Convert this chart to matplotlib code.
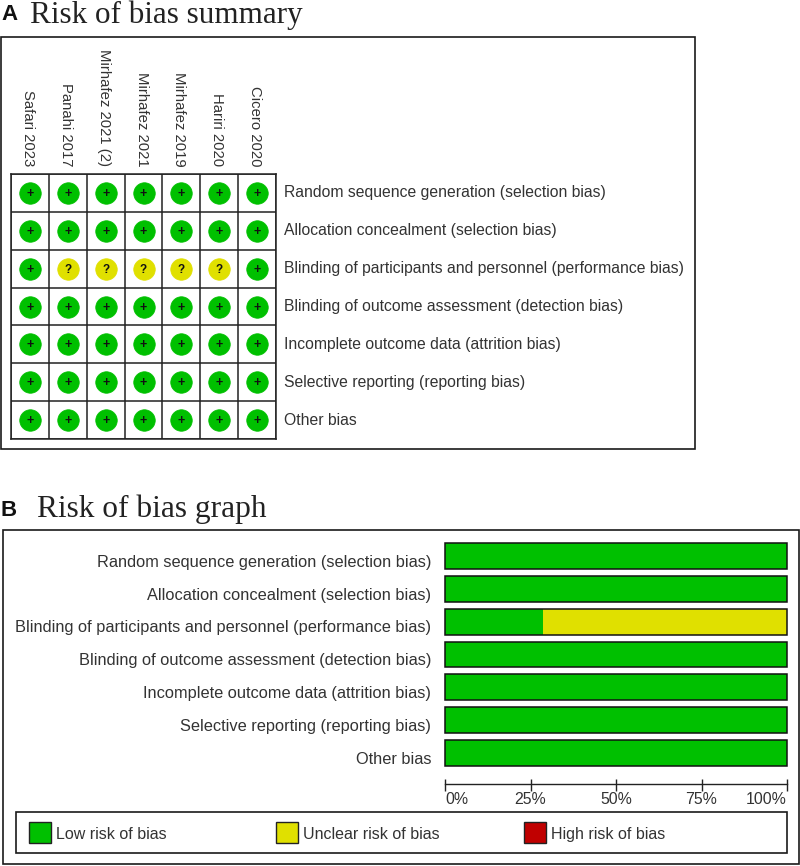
import matplotlib
matplotlib.use("Agg")
import matplotlib.pyplot as plt
from matplotlib.patches import Rectangle

W, H = 800, 866
GREEN = "#00c000"
YELLOW = "#e0e000"
RED = "#c00000"
TXT = "#333333"

studies = ["Safari 2023", "Panahi 2017", "Mirhafez 2021 (2)", "Mirhafez 2021",
           "Mirhafez 2019", "Hariri 2020", "Cicero 2020"]
domains = ["Random sequence generation (selection bias)",
           "Allocation concealment (selection bias)",
           "Blinding of participants and personnel (performance bias)",
           "Blinding of outcome assessment (detection bias)",
           "Incomplete outcome data (attrition bias)",
           "Selective reporting (reporting bias)",
           "Other bias"]
judgements = ["+++++++", "+++++++", "+?????+", "+++++++", "+++++++", "+++++++", "+++++++"]
low_pct = [100, 100, 28.6, 100, 100, 100, 100]
unclear_pct = [0, 0, 71.4, 0, 0, 0, 0]
high_pct = [0, 0, 0, 0, 0, 0, 0]
ticks = [0, 25, 50, 75, 100]
tick_labels = ["0%", "25%", "50%", "75%", "100%"]
legend_items = [("Low risk of bias", GREEN), ("Unclear risk of bias", YELLOW), ("High risk of bias", RED)]

plt.rcParams["font.family"] = ["Liberation Sans", "DejaVu Sans"]
fig = plt.figure(figsize=(W / 100, H / 100), dpi=100, facecolor="white")


def px_axes(x0, y0, x1, y1):
    return fig.add_axes([x0 / W, 1 - y1 / H, (x1 - x0) / W, (y1 - y0) / H])


def frame(x0, y0, x1, y1, lw=1.2, ec="#1a1a1a"):
    fig.add_artist(Rectangle((x0 / W, 1 - y1 / H), (x1 - x0) / W, (y1 - y0) / H,
                             transform=fig.transFigure, fill=False, ec=ec, lw=lw))


def ftext(x, y, s, **kw):
    fig.text(x / W, 1 - y / H, s, **kw)


# Panel headings
ftext(1, 15, "A", fontsize=16, fontweight="bold", va="center", ha="left", color="#111111")
ftext(30, 15, "Risk of bias summary", fontsize=22.4, va="center", ha="left",
      family=["Liberation Serif"], color="#222222")
ftext(1, 510, "B", fontsize=16, fontweight="bold", va="center", ha="left", color="#111111")
ftext(37, 509, "Risk of bias graph", fontsize=22.6, va="center", ha="left",
      family=["Liberation Serif"], color="#222222")

frame(1, 37, 695, 449)
frame(3, 530, 799, 864)

# Panel A: traffic-light grid
ax = px_axes(11, 174, 276, 439)
n_c, n_r = len(studies), len(domains)
ax.set_xlim(0, n_c)
ax.set_ylim(n_r, 0)
ax.set_xticks(range(n_c + 1))
ax.set_yticks(range(n_r + 1))
ax.grid(True, color="#222222", lw=1.1)
ax.tick_params(length=0, labelbottom=False, labelleft=False)
for s in ax.spines.values():
    s.set_color("#222222")
    s.set_linewidth(1.1)
ax.set_axisbelow(True)
for r, row in enumerate(judgements):
    for c, j in enumerate(row):
        col = GREEN if j == "+" else YELLOW
        ax.plot(c + .5, r + .5, "o", ms=15.5, mfc=col, mec=col, mew=0.5, clip_on=False)
        ax.text(c + .5, r + .49, j, ha="center", va="center_baseline", fontsize=9 if j == "+" else 8.5,
                fontweight="bold", color="#111111")
for c, name in enumerate(studies):
    ax.text(c + .45, -.2, name, rotation=-90, ha="center", va="bottom", fontsize=10.7, color=TXT)
for r, name in enumerate(domains):
    ax.text(n_c + .2, r + .5, name, ha="left", va="center", fontsize=11.3, color=TXT)

# Panel B: stacked bars
bx = px_axes(445, 539.6, 787, 769.4)
ypos = list(range(n_r))
bx.barh(ypos, low_pct, height=.79, color=GREEN, edgecolor="none", clip_on=False)
bx.barh(ypos, unclear_pct, left=low_pct, height=.79, color=YELLOW, edgecolor="none", clip_on=False)
bx.barh(ypos, high_pct, left=[a + b for a, b in zip(low_pct, unclear_pct)], height=.79,
        color=RED, edgecolor="none", clip_on=False)
bx.barh(ypos, [a + b + c for a, b, c in zip(low_pct, unclear_pct, high_pct)], height=.79,
        fill=False, edgecolor="#111111", lw=1.1, clip_on=False)
bx.set_xlim(0, 100)
bx.set_ylim(n_r - .5, -.5)
bx.set_yticks([])
bx.set_xticks([])
for i, name in enumerate(domains):
    bx.annotate(name, (0, i), xytext=(-10, -4.5), textcoords="offset points",
                ha="right", va="center", fontsize=11.75, color=TXT)
for s in bx.spines.values():
    s.set_visible(False)

# Percent axis
tx = px_axes(445, 783.5, 787, 784.5)
tx.set_xlim(0, 100)
tx.set_yticks([])
tx.set_xticks(ticks)
tx.set_xticklabels(tick_labels, fontsize=11.4, color=TXT)
tx.tick_params(axis="x", direction="inout", length=8, width=1, color="#222222", pad=1.5)
for lab, ha in zip(tx.get_xticklabels(), ["left", "center", "center", "center", "right"]):
    lab.set_ha(ha)
for k, s in tx.spines.items():
    s.set_visible(k == "top")
    s.set_color("#222222")
    s.set_linewidth(1)

# Legend
frame(16, 812, 787, 853)
for (label, col), x0 in zip(legend_items, [29, 276, 524]):
    fig.add_artist(Rectangle((x0 / W, 1 - 843 / H), 21.5 / W, 21.5 / H, transform=fig.transFigure,
                             fc=col, ec="#222222", lw=1))
    ftext(x0 + 27, 834.5, label, fontsize=11.5, va="center", ha="left", color=TXT)

fig.savefig("out.png", dpi=100, facecolor="white")
